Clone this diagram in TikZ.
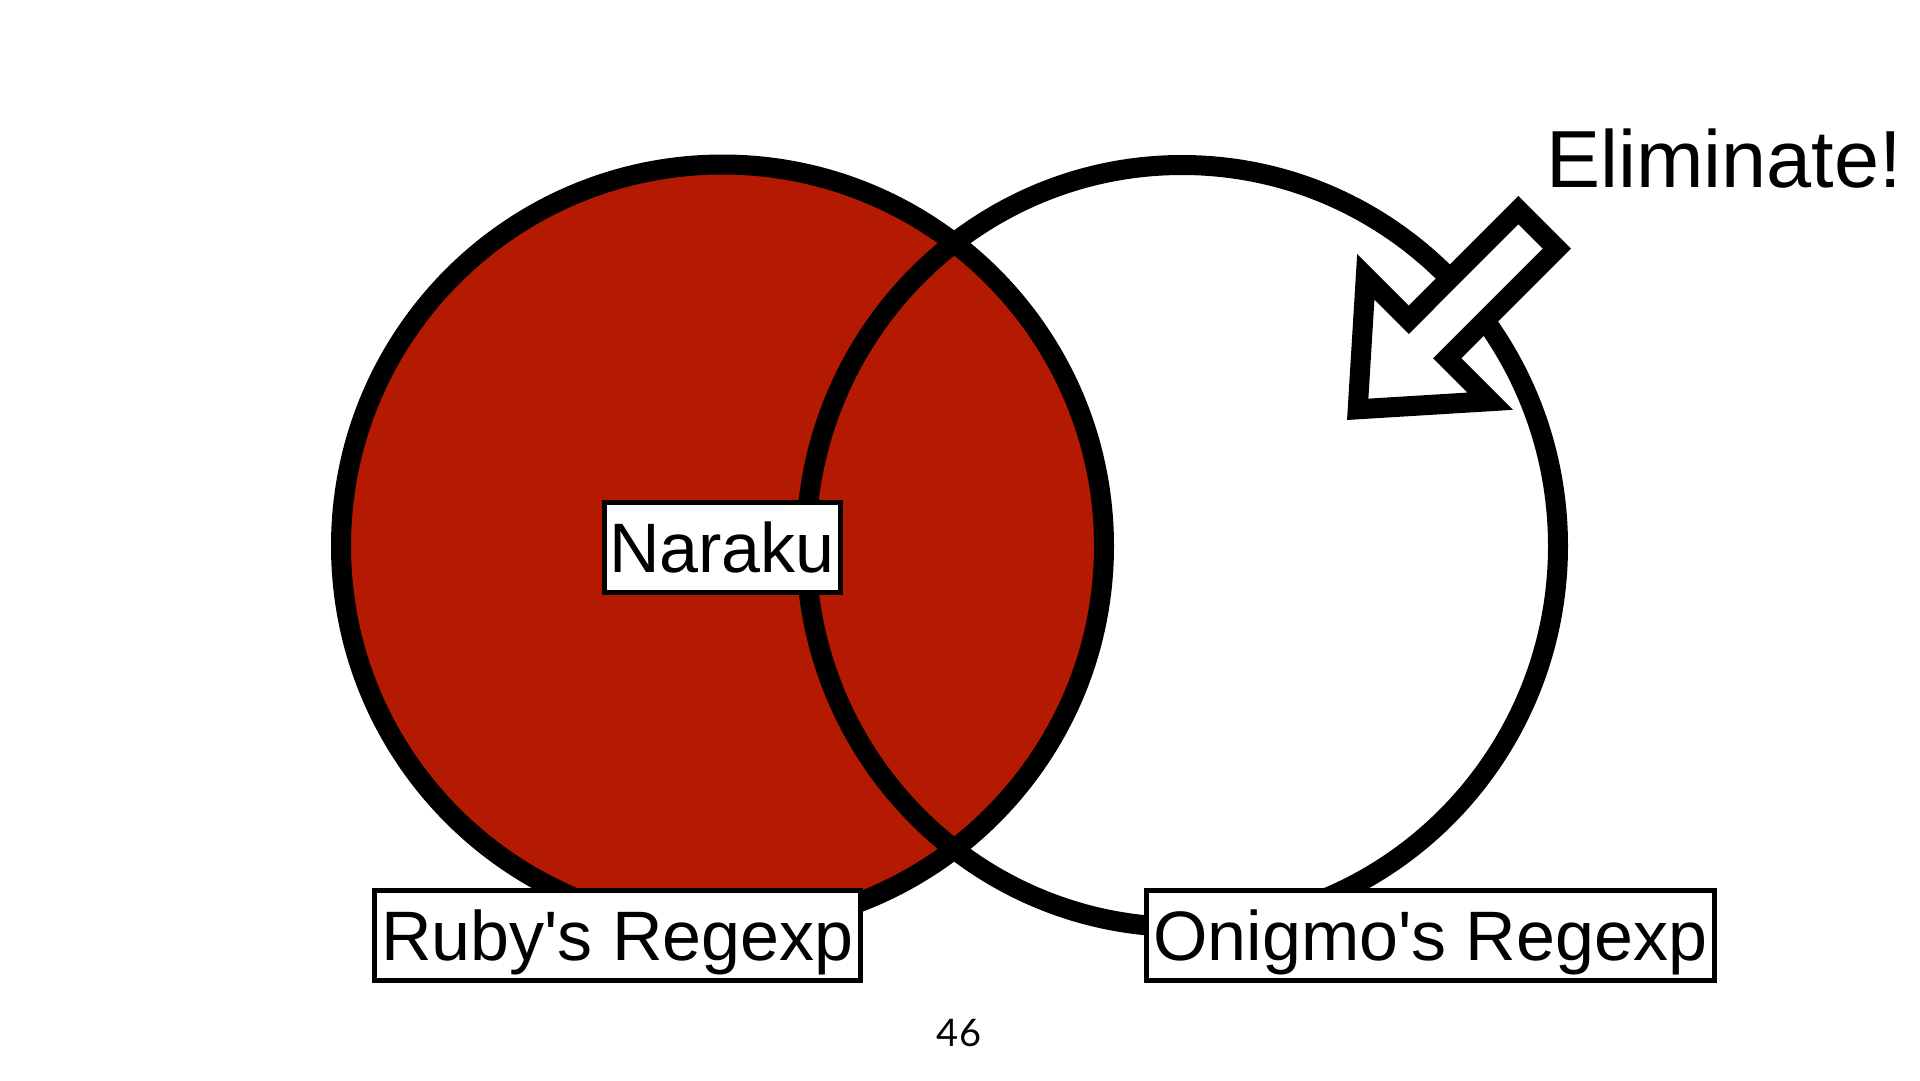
\documentclass[tikz,border=0pt]{standalone}
\usepackage{fontspec}
\setmainfont{Liberation Sans}
\newfontfamily\pagefont{Lato}
\definecolor{vennred}{RGB}{180,25,2}
\begin{document}
\begin{tikzpicture}[x=1pt,y=-1pt,
  ring/.style={line width=20pt},
  namebox/.style={draw=black, fill=white, line width=5pt, inner sep=0pt,
    text height=50pt, text depth=0pt, font=\fontsize{70}{84}\selectfont,
    minimum height=90pt},
]
\useasboundingbox (0,0) rectangle (1920,1080);
\fill[white] (0,0) rectangle (1920,1080);
% circles
\fill[vennred] (722.5,546) circle[radius=381.5pt];
\draw[ring] (722.5,546) circle[radius=381.5pt];
\draw[ring] (1182,546) ellipse[x radius=376pt, y radius=381pt];
% arrow
\draw[ring, fill=white, line join=miter]
  (1518.4,210.1) -- (1556.9,248.6) -- (1447.2,358.2) -- (1490.2,401.2)
  -- (1357.7,409.3) -- (1365.8,276.8) -- (1408.8,319.8) -- cycle;
% labels
\node[namebox, minimum width=236pt] (naraku) at (722,547.5) {Naraku};
\node[namebox, minimum width=485.5pt] (ruby) at (617.25,935.5) {Ruby\textquotesingle s Regexp};
\node[namebox, minimum width=568.5pt] (onigmo) at (1430.25,935.5) {Onigmo\textquotesingle s Regexp};
\node[font=\fontsize{81}{97}\selectfont, anchor=base, inner sep=0pt] (elim) at (1724,187.3) {Eliminate!};
\node[font=\pagefont\fontsize{38}{46}\selectfont, anchor=base, inner sep=0pt] (page) at (959,1046) {46};
\end{tikzpicture}
\end{document}
